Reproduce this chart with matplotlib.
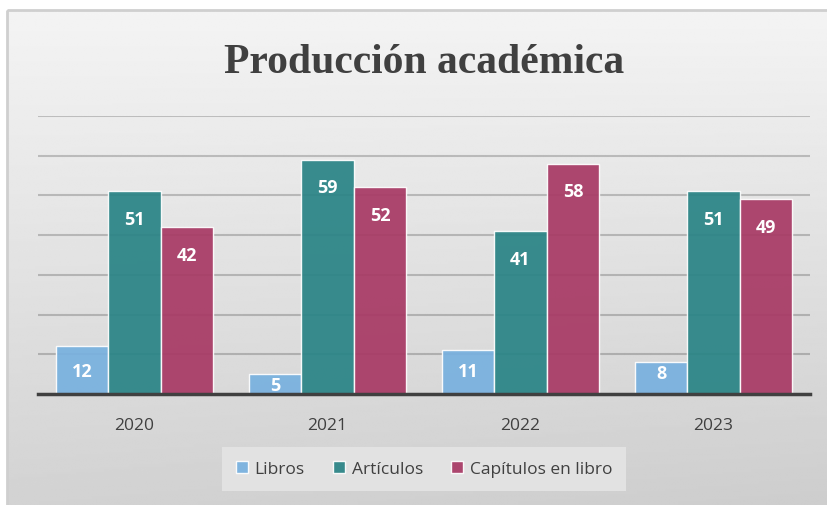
import matplotlib.pyplot as plt
import numpy as np
from matplotlib.patches import Rectangle

# Data
years = ['2020', '2021', '2022', '2023']
libros = [12, 5, 11, 8]
articulos = [51, 59, 41, 51]
capitulos = [42, 52, 58, 49]
series_names = ['Libros', 'Artículos', 'Capítulos en libro']
colors = ['#78b1df', '#2a8486', '#a83a65']

plt.rcParams['font.family'] = ['Open Sans', 'DejaVu Sans']

fig = plt.figure(figsize=(8.27, 5.06), dpi=100)
fig.patch.set_facecolor('white')

# background panel with gradient
bg = fig.add_axes([0, 0, 1, 1], zorder=-10)
bg.set_xlim(0, 827)
bg.set_ylim(506, 0)
bg.axis('off')
yy, xx = np.mgrid[0:1:200j, 0:1:200j]
grad = 0.955 - 0.13 * yy - 0.02 * xx * yy
bg.imshow(grad, cmap='gray', vmin=0, vmax=1, extent=(8, 827, 506, 11),
          aspect='auto', interpolation='bilinear')
bg.add_patch(Rectangle((7, 10.5), 830, 510, fill=False, edgecolor='#cfcfcf', lw=2))

ax = fig.add_axes([38 / 827, 1 - 395 / 506, 772 / 827, 278 / 506])
ax.patch.set_alpha(0)

x = np.arange(len(years))
w = 0.272
for i, (vals, name) in enumerate(zip([libros, articulos, capitulos], series_names)):
    pos = x + (i - 1) * w
    ax.bar(pos, vals, width=w, color=colors[i], alpha=0.93, label=name,
           edgecolor=(1, 1, 1, 0.35), linewidth=1, zorder=2)
    for px, v in zip(pos, vals):
        # inside-end label, kept above the baseline for short bars
        ly = min(max(v - 6.9, 5.8), v - 2.8)
        ax.text(px, ly, str(v), ha='center', va='center', color='white',
                fontsize=13, fontweight='bold', zorder=4)

ax.set_xlim(-0.5, 3.5)
ax.set_ylim(0, 70)
ax.set_yticks(np.arange(10, 71, 10))
ax.yaxis.grid(True, color='#000000', alpha=0.2, lw=1.5, zorder=1)
ax.set_axisbelow(True)
ax.tick_params(axis='y', left=False, labelleft=False)
ax.tick_params(axis='x', bottom=False, labelsize=12.5, labelcolor='#404040', pad=13)
ax.set_xticks(x)
ax.set_xticklabels(years)
for s in ['top', 'right', 'left']:
    ax.spines[s].set_visible(False)
ax.spines['bottom'].set_color('#404040')
ax.spines['bottom'].set_linewidth(2.5)
ax.spines['bottom'].set_zorder(5)

fig.text(424 / 827, 1 - 63 / 506, 'Producción académica', ha='center', va='center',
         fontsize=30, fontweight='bold', color='#404040',
         family=['Liberation Serif', 'DejaVu Serif'])

handles, labels = ax.get_legend_handles_labels()
leg = fig.legend(handles, labels, loc='center', bbox_to_anchor=(424 / 827, 1 - 470 / 506),
                 ncol=3, frameon=True, fancybox=False, fontsize=12.5,
                 handlelength=0.7, handleheight=0.7, handletextpad=0.4,
                 columnspacing=1.6, borderpad=0.8, labelcolor='#404040')
leg.get_frame().set_facecolor('#e2e2e2')
leg.get_frame().set_edgecolor('none')
leg.get_frame().set_alpha(1)

fig.savefig('out.png', dpi=100)
